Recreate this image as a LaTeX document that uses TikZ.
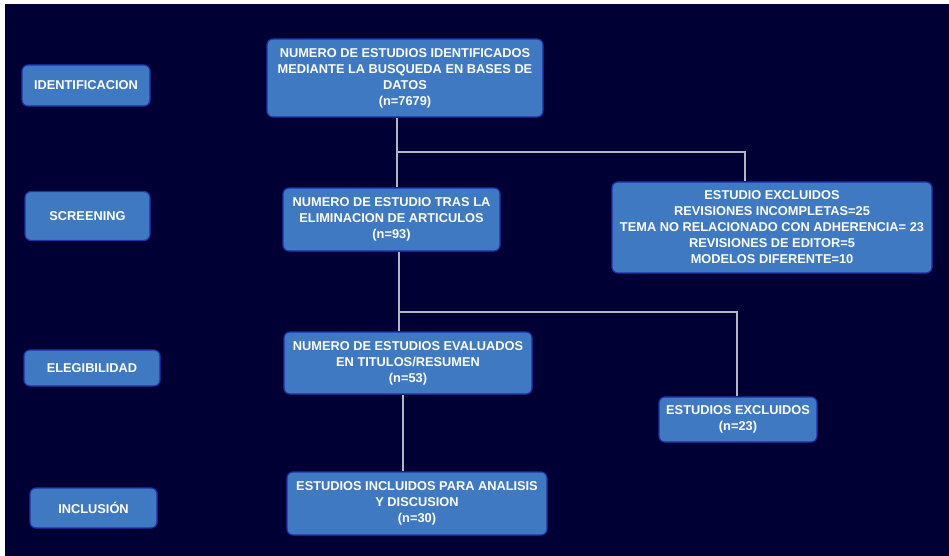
\documentclass[tikz,border=0pt]{standalone}
\usepackage{fontspec}
\setmainfont{Liberation Sans}
\definecolor{bgnavy}{RGB}{0,0,52}
\definecolor{boxfill}{RGB}{63,121,194}
\definecolor{boxedge}{RGB}{30,50,170}
\definecolor{conncol}{RGB}{180,182,200}
\begin{document}
\begin{tikzpicture}[x=1pt,y=-1pt,
  box/.style={draw=boxedge, line width=1.2pt, fill=boxfill, rounded corners=6pt,
    text=white, font=\bfseries\fontsize{12.8}{16}\selectfont, align=center,
    inner sep=0pt},
  conn/.style={draw=conncol, line width=1.1pt}]
\useasboundingbox (0,0) rectangle (949,556);
\fill[white] (0,0) rectangle (949,556);
\fill[bgnavy] (5,4) rectangle (949,556);
% stage labels
\node[box, minimum width=128pt, minimum height=41pt] (s1) at (86,85.5) {IDENTIFICACION};
\node[box, minimum width=125pt, minimum height=49pt] (s2) at (87.5,216) {SCREENING};
\node[box, minimum width=136pt, minimum height=36pt] (s3) at (92,368) {ELEGIBILIDAD};
\node[box, minimum width=127pt, minimum height=40pt] (s4) at (93.5,508) {INCLUSIÓN};
% main boxes
\node[box, minimum width=276pt, minimum height=78pt] (b1) at (405,78)
  {NUMERO DE ESTUDIOS IDENTIFICADOS\\MEDIANTE LA BUSQUEDA EN BASES DE\\DATOS\\(n=7679)};
\node[box, minimum width=217pt, minimum height=63pt] (b2) at (391.5,219.5)
  {NUMERO DE ESTUDIO TRAS LA\\ELIMINACION DE ARTICULOS\\(n=93)};
\node[box, minimum width=248pt, minimum height=62pt] (b3) at (408,363)
  {NUMERO DE ESTUDIOS EVALUADOS\\EN TITULOS/RESUMEN\\(n=53)};
\node[box, minimum width=260pt, minimum height=63pt] (b4) at (417,503.5)
  {ESTUDIOS INCLUIDOS PARA ANALISIS\\Y DISCUSION\\(n=30)};
% excluded boxes
\node[box, minimum width=320pt, minimum height=91pt] (e1) at (772,227.5)
  {ESTUDIO EXCLUIDOS\\REVISIONES INCOMPLETAS=25\\TEMA NO RELACIONADO CON ADHERENCIA= 23\\REVISIONES DE EDITOR=5\\MODELOS DIFERENTE=10};
\node[box, minimum width=158pt, minimum height=45pt] (e2) at (738,419.5)
  {ESTUDIOS EXCLUIDOS\\(n=23)};
% connectors
\coordinate (j1) at (397,152);
\coordinate (k1) at (745,152);
\coordinate (j2) at (399,312);
\coordinate (k2) at (737,312);
\coordinate (j3) at (403,420);
\draw[conn] (j1 |- b1.south) -- (j1 |- b2.north);
\draw[conn] (j1) -- (k1) -- (k1 |- e1.north);
\draw[conn] (j2 |- b2.south) -- (j2 |- b3.north);
\draw[conn] (j2) -- (k2) -- (k2 |- e2.north);
\draw[conn] (j3 |- b3.south) -- (j3 |- b4.north);
\end{tikzpicture}
\end{document}
